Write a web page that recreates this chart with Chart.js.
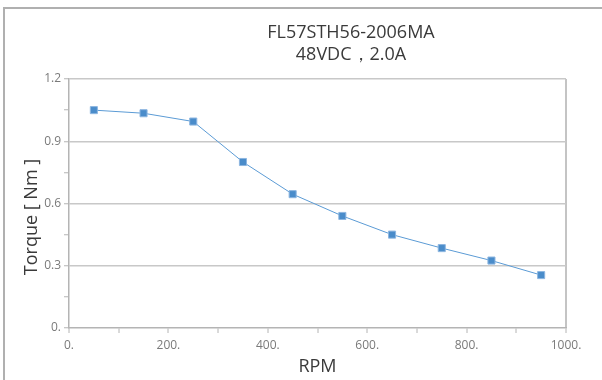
<!DOCTYPE html>
<html>
<head>
<meta charset="utf-8">
<script src="https://cdn.jsdelivr.net/npm/chart.js@4/dist/chart.umd.min.js"></script>
<style>
  html, body { margin: 0; padding: 0; background: #fff; }
  #wrap { position: relative; width: 602px; height: 380px; overflow: hidden; }
  #frame { position: absolute; left: 3px; top: 7px; width: 610px; height: 400px;
           border-top: 2px solid #b0b0b0; border-left: 2px solid #b0b0b0; box-sizing: border-box; }
  canvas { position: absolute; left: 0; top: 0; }
</style>
</head>
<body>
<div id="wrap">
  <div id="frame"></div>
  <canvas id="c" width="602" height="380"></canvas>
</div>
<script>
const titleLines = ['FL57STH56-2006MA', '48VDC，2.0A'];
const rpm = [50, 150, 250, 350, 450, 550, 650, 750, 850, 950];
const torque = [1.05, 1.035, 0.995, 0.80, 0.645, 0.54, 0.45, 0.385, 0.325, 0.255];
const xTitle = 'RPM';
const yTitle = 'Torque [ Nm ]';

const FONT = '"Open Sans", "DejaVu Sans", sans-serif';

const titlePlugin = {
  id: 'textExtras',
  afterDraw(chart) {
    const ctx = chart.ctx;
    ctx.save();
    ctx.fillStyle = '#3a3a3a';
    ctx.font = '18px ' + FONT;
    ctx.textAlign = 'center';
    ctx.textBaseline = 'middle';
    ctx.fillText(titleLines[0], 351, 33);
    ctx.fillText(titleLines[1], 351, 55);
    // y axis title
    ctx.translate(32, 217);
    ctx.rotate(-Math.PI / 2);
    ctx.fillText(yTitle, 0, 0);
    ctx.restore();
  }
};

new Chart(document.getElementById('c'), {
  type: 'line',
  data: {
    datasets: [{
      data: rpm.map((x, i) => ({ x: x, y: torque[i] })),
      borderColor: '#5b9bd5',
      borderWidth: 1,
      backgroundColor: '#4a8cca',
      pointStyle: 'rect',
      pointRadius: 5,
      pointHoverRadius: 5,
      pointBackgroundColor: '#4a8cca',
      pointBorderColor: '#8db6e0',
      pointBorderWidth: 1,
      tension: 0
    }]
  },
  options: {
    responsive: false,
    animation: false,
    plugins: { legend: { display: false }, tooltip: { enabled: false }, title: { display: false } },
    layout: { padding: { top: 79, right: 36, bottom: 0, left: 0 } },
    scales: {
      x: {
        type: 'linear',
        min: 0, max: 1000,
        afterFit: s => { s.height = 52; },
        ticks: {
          stepSize: 100,
          autoSkip: false,
          maxRotation: 0,
          color: '#7a7a7a',
          font: { family: FONT, size: 12 },
          padding: 5,
          callback: v => (Math.round(v) % 200 === 0 ? Math.round(v) + '.' : '')
        },
        grid: {
          drawOnChartArea: true,
          color: ctx => (ctx.tick && ctx.tick.value === 1000 ? '#c4c4c4' : 'rgba(0,0,0,0)'),
          lineWidth: 2,
          tickColor: '#b4b4b4',
          tickLength: 5,
          tickWidth: 1
        },
        border: { display: true, color: '#b4b4b4', width: 1.5 },
        title: {
          display: true,
          text: xTitle,
          color: '#3a3a3a',
          font: { family: FONT, size: 18 },
          padding: { top: 5, bottom: 2 }
        }
      },
      y: {
        min: 0, max: 1.2,
        afterFit: s => { s.width = 69; },
        ticks: {
          stepSize: 0.15,
          autoSkip: false,
          color: '#7a7a7a',
          font: { family: FONT, size: 12 },
          padding: 3,
          callback: v => {
            const k = Math.round(v / 0.15);
            if (k % 2 !== 0) return '';
            return k === 0 ? '0.' : (k * 0.15).toFixed(1);
          }
        },
        grid: {
          color: ctx => {
            if (!ctx.tick) return 'rgba(0,0,0,0)';
            const k = Math.round(ctx.tick.value / 0.15);
            return (k % 2 === 0 && k !== 0) ? '#c8c8c8' : 'rgba(0,0,0,0)';
          },
          lineWidth: 1.5,
          tickColor: '#b4b4b4',
          tickLength: 5,
          tickWidth: 1
        },
        border: { display: true, color: '#b4b4b4', width: 1.5 },
        title: { display: false }
      }
    }
  },
  plugins: [titlePlugin]
});
</script>
</body>
</html>
